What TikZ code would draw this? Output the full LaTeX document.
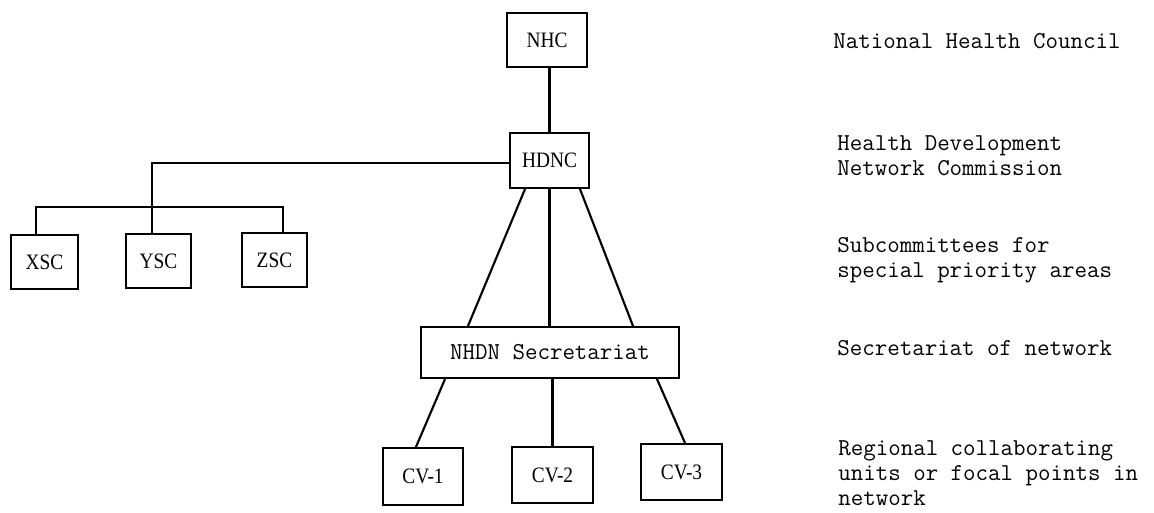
\documentclass[tikz,border=0pt]{standalone}
\usepackage{fontspec}
\usetikzlibrary{calc}
\newfontfamily\boxserif{Liberation Serif}[FakeStretch=0.88]
\newcommand\typew{\ttfamily}
\begin{document}
\begin{tikzpicture}[x=0.75pt,y=-0.75pt,
  org/.style={draw, line width=1.6pt, inner sep=0pt, font=\boxserif\fontsize{16.5}{18}\selectfont},
  twbox/.style={draw, line width=1.6pt, inner sep=0pt, font=\typew\fontsize{18.2}{18.5}\selectfont},
  conn/.style={line width=1.6pt, line cap=round},
  lab/.style={anchor=base west, align=left, inner sep=0pt, font=\typew\fontsize{18.2}{18.6}\selectfont}]
\useasboundingbox (0,0) rectangle (1154,512);
% boxes
\node[org, minimum width=60pt, minimum height=40.5pt] (nhc) at (547,40) {NHC};
\node[org, minimum width=59.25pt, minimum height=41.25pt] (hdnc) at (549.5,160.5) {HDNC};
\node[org, minimum width=50.25pt, minimum height=40.5pt] (xsc) at (44.5,262) {XSC};
\node[org, minimum width=48.75pt, minimum height=40.5pt] (ysc) at (158.5,261) {YSC};
\node[org, minimum width=48.75pt, minimum height=40.5pt] (zsc) at (274.5,260) {ZSC};
\node[twbox, minimum width=193.5pt, minimum height=38.25pt] (sec) at (550,352.5) {NHDN Secretariat};
\node[org, minimum width=60pt, minimum height=42.75pt] (cv1) at (423,476.5) {CV-1};
\node[org, minimum width=60.75pt, minimum height=42pt] (cv2) at (552.5,475) {CV-2};
\node[org, minimum width=60.75pt, minimum height=42pt] (cv3) at (681.5,472) {CV-3};
% junction points
\coordinate (j1) at (152,163);
\coordinate (bl) at (36,207);
\coordinate (br) at (283,207);
% connectors
\draw[conn] (hdnc.north) -- (hdnc.north |- nhc.south);
\draw[conn] (hdnc.west |- j1) -- (j1) -- (j1 |- ysc.north);
\draw[conn] (xsc.north -| bl) -- (bl) -- (br) -- (br |- zsc.north);
\draw[conn] ($(hdnc.south)+(-24.5,0)$) -- ($(sec.north)+(-82,0)$);
\draw[conn] (hdnc.south) -- (hdnc.south |- sec.north);
\draw[conn] ($(hdnc.south)+(30.5,0)$) -- ($(sec.north)+(83,0)$);
\draw[conn] ($(sec.south)+(-105,0)$) -- ($(cv1.north)+(-7,0)$);
\draw[conn] (cv2.north) -- (cv2.north |- sec.south);
\draw[conn] ($(sec.south)+(107,0)$) -- ($(cv3.north)+(3.5,0)$);
% labels (anchor at the baseline of the last line)
\node[lab] (l1) at (833,48) {National Health Council};
\node[lab] (l2) at (837,175) {Health Development\\Network Commission};
\node[lab] (l3) at (837,277) {Subcommittees for\\special priority areas};
\node[lab] (l4) at (837,355) {Secretariat of network};
\node[lab] (l5) at (838,505) {Regional collaborating\\units or focal points in\\network};
\end{tikzpicture}
\end{document}
